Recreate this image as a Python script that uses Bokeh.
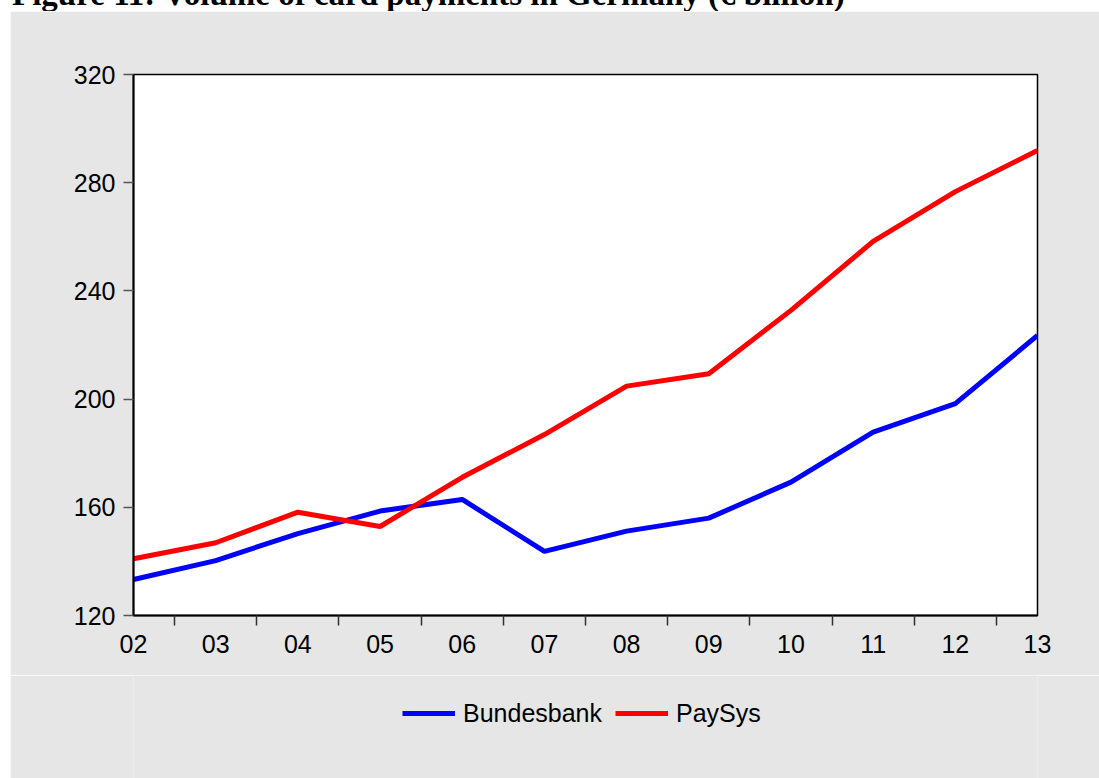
from bokeh.plotting import figure
from bokeh.models import Range1d, FixedTicker, Legend, LegendItem, Div, Spacer
from bokeh.layouts import column, row
from bokeh.embed import file_html
from bokeh.resources import INLINE

years = ["02", "03", "04", "05", "06", "07", "08", "09", "10", "11", "12", "13"]
bundesbank = [133.3, 140.3, 150.3, 158.6, 162.9, 143.7, 151.2, 156.0, 169.3, 187.8, 198.3, 223.5]
paysys = [141.0, 146.9, 158.2, 152.9, 171.1, 186.9, 204.8, 209.4, 232.8, 258.3, 276.7, 291.9]
y_ticks = [120, 160, 200, 240, 280, 320]
series_names = ["Bundesbank", "PaySys"]
title_text = "Figure 11: Volume of card payments in Germany (\u20ac billion)"

x = list(range(len(years)))
BG = "#e6e6e6"
font = "Liberation Sans"

# ---- main chart ----
p = figure(width=1089, height=664,
           x_range=Range1d(0, len(years) - 1), y_range=Range1d(y_ticks[0], y_ticks[-1]),
           output_backend="svg", toolbar_location=None,
           min_border_left=123, min_border_right=62,
           min_border_top=63, min_border_bottom=60)

p.background_fill_color = "white"
p.border_fill_color = BG
p.outline_line_color = "black"
p.outline_line_width = 1.5
p.xgrid.visible = False
p.ygrid.visible = False

p.line(x, bundesbank, line_color="#0000ff", line_width=5)
p.line(x, paysys, line_color="#ff0000", line_width=5)

xa = p.xaxis[0]
xa.ticker = FixedTicker(ticks=x, minor_ticks=[i + 0.5 for i in range(len(years) - 1)])
xa.major_label_overrides = {i: years[i] for i in x}
xa.major_tick_line_color = None
xa.major_tick_in = 0
xa.major_tick_out = 10
xa.minor_tick_in = 0
xa.minor_tick_out = 10
xa.minor_tick_line_color = "#333333"
xa.minor_tick_line_width = 1.5
xa.axis_line_color = "black"
xa.axis_line_width = 2
xa.major_label_standoff = 9
xa.major_label_text_font = font
xa.major_label_text_font_size = "25px"
xa.major_label_text_color = "black"

ya = p.yaxis[0]
ya.ticker = FixedTicker(ticks=y_ticks, minor_ticks=[])
ya.major_tick_in = 0
ya.major_tick_out = 10
ya.major_tick_line_color = "#555555"
ya.major_tick_line_width = 1.5
ya.minor_tick_line_color = None
ya.axis_line_color = "black"
ya.axis_line_width = 2
ya.major_label_standoff = 8
ya.major_label_text_font = font
ya.major_label_text_font_size = "25px"
ya.major_label_text_color = "black"

# ---- legend strip (same series, legend only) ----
pl = figure(width=1089, height=103,
            x_range=Range1d(0, len(years) - 1), y_range=Range1d(0, 1),
            x_axis_type=None, y_axis_type=None,
            output_backend="svg", toolbar_location=None,
            min_border=0)
pl.background_fill_color = BG
pl.border_fill_color = BG
pl.outline_line_color = None
l1 = pl.line(x, bundesbank, line_color="#0000ff", line_width=5)
l2 = pl.line(x, paysys, line_color="#ff0000", line_width=5)

legend = Legend(items=[LegendItem(label=series_names[0], renderers=[l1]),
                       LegendItem(label=series_names[1], renderers=[l2])],
                orientation="horizontal", location=(269, 50),
                padding=0, margin=0, spacing=13, label_standoff=8,
                glyph_width=53, glyph_height=30, label_height=30,
                border_line_color=None, background_fill_alpha=0,
                label_text_font=font, label_text_font_size="25px",
                label_text_color="black")
pl.add_layout(legend)

# ---- title (cut off at the top, as in the source) ----
title_html = ('<div style="position:relative; top:-22px; left:12px; '
              'font-family:\'Liberation Serif\'; font-weight:bold; font-size:33px; '
              'line-height:33px; white-space:nowrap; color:black;">'
              + title_text + '</div>')
title = Div(text=title_html, width=1099, height=11,
            styles={"overflow": "hidden", "margin": "0", "padding": "0"})

layout = column(title,
                row(Spacer(width=10, height=767), column(p, pl, spacing=0), spacing=0),
                spacing=0)

open("out.html", "w").write(file_html(layout, INLINE))
